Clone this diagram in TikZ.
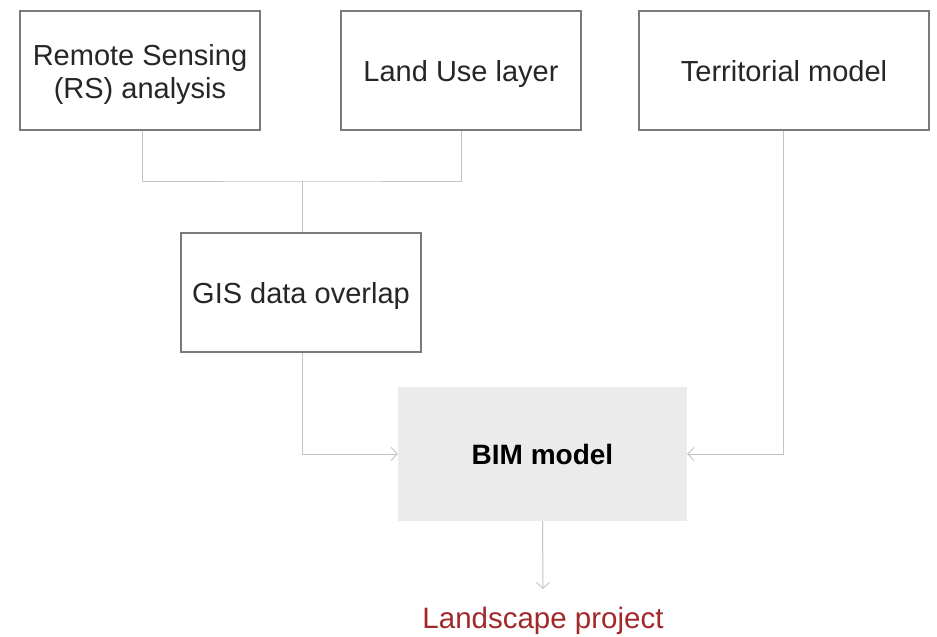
\documentclass[tikz,border=0pt]{standalone}
\usepackage{fontspec}
\setmainfont{Liberation Sans}
\usetikzlibrary{arrows.meta}
\definecolor{boxline}{HTML}{7A7A7A}
\definecolor{linkline}{HTML}{C4C4C4}
\definecolor{bimfill}{HTML}{EBEBEB}
\definecolor{resultred}{HTML}{A3282A}
\begin{document}
\begin{tikzpicture}[x=1pt,y=-1pt,
  inputbox/.style={draw=boxline,line width=1.2pt,fill=white,minimum width=240pt,minimum height=119pt,
    inner sep=0pt,align=center,font=\fontsize{29}{33}\selectfont,text=black!85,
    text height=21pt,text depth=0pt},
  bimbox/.style={fill=bimfill,draw=none,minimum width=289pt,minimum height=134pt,inner sep=0pt,
    font=\fontsize{28}{33}\selectfont\bfseries},
  link/.style={draw=linkline,line width=1pt},
  tip/.style={-{Straight Barb[length=6pt,width=13pt,line width=0.9pt]}}]
\useasboundingbox (0,0) rectangle (937,637);
\fill[white] (0,0) rectangle (937,637);

\node[inputbox,text height=55pt] (rs) at (140,70.5) {Remote Sensing\\(RS) analysis};
\node[inputbox] (lu) at (461,70.5) {Land Use layer};
\node[inputbox,minimum width=290pt] (tm) at (784,70.5) {Territorial model};
\node[inputbox] (gis) at (301,292.5) {GIS data overlap};
\node[bimbox] (bim) at (542.5,454) {BIM model};
\node[font=\fontsize{29.5}{34}\selectfont,text=resultred] (lp) at (543,620.5) {Landscape project};

\coordinate (join) at (302,181);
\draw[link] (rs.south -| 142,0) |- (join) -| (lu.south);
\draw[link] (join) -- (gis.north -| join);
\draw[link,tip] (gis.south -| join) |- (bim.west);
\draw[link,tip] (tm.south -| 783,0) |- (bim.east);
\draw[link,tip] (bim.south) -- (543,589);
\end{tikzpicture}
\end{document}
